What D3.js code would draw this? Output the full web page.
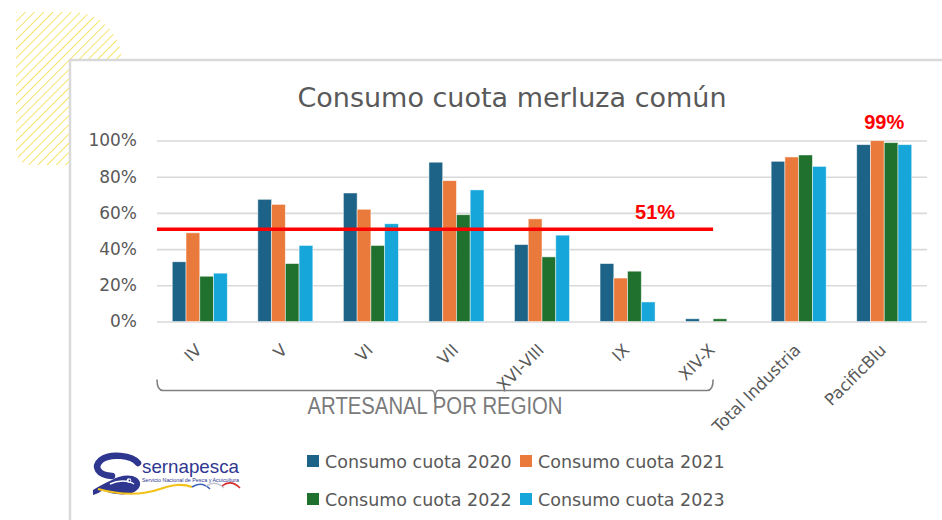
<!DOCTYPE html>
<html>
<head>
<meta charset="utf-8">
<script src="https://cdn.jsdelivr.net/npm/d3@7"></script>
<style>
  html, body { margin: 0; padding: 0; background: #ffffff; }
  svg { display: block; }
</style>
</head>
<body>
<div id="chart"></div>
<script>
// ---- data ----
const categories = ["IV", "V", "VI", "VII", "XVI-VIII", "IX", "XIV-X", "Total Industria", "PacificBlu"];
const seriesNames = ["Consumo cuota 2020", "Consumo cuota 2021", "Consumo cuota 2022", "Consumo cuota 2023"];
const cuota2020 = [0.33, 0.675, 0.71, 0.88, 0.425, 0.32, 0.015, 0.885, 0.977];
const cuota2021 = [0.49, 0.647, 0.62, 0.778, 0.567, 0.24, 0.0, 0.909, 0.999];
const cuota2022 = [0.25, 0.32, 0.42, 0.59, 0.357, 0.278, 0.015, 0.92, 0.988];
const cuota2023 = [0.267, 0.42, 0.54, 0.727, 0.477, 0.108, 0.0, 0.857, 0.977];
const yTicks = [0, 0.2, 0.4, 0.6, 0.8, 1.0];
const artesanalGroup = ["IV", "V", "VI", "VII", "XVI-VIII", "IX", "XIV-X"];
const thresholdValue = 0.51;
const thresholdLabel = "51%";
const pacificLabelValue = 0.99;
const pacificLabel = "99%";

const seriesValues = [cuota2020, cuota2021, cuota2022, cuota2023];
const colors = ["#1c6387", "#ea7a3b", "#1f712d", "#16a6d9"];

const W = 942, H = 520;
const FONT = "'DejaVu Sans', 'Open Sans', sans-serif";
const TXT = "#595959";

const svg = d3.select("#chart").append("svg")
  .attr("width", W).attr("height", H)
  .attr("viewBox", `0 0 ${W} ${H}`);

// ---- decorative hatched corner ----
const defs = svg.append("defs");
const pat = defs.append("pattern")
  .attr("id", "hatch").attr("patternUnits", "userSpaceOnUse")
  .attr("width", 6.5).attr("height", 6.5)
  .attr("patternTransform", "rotate(45)");
pat.append("line").attr("x1", 0).attr("y1", 0).attr("x2", 0).attr("y2", 6.5)
  .attr("stroke", "#f3d92c").attr("stroke-width", 1.4);

svg.append("path")
  .attr("d", "M16,12 H72 A50,50 0 0 1 122,62 V165 H30 A14,14 0 0 1 16,151 Z")
  .attr("fill", "url(#hatch)");

// ---- card ----
svg.append("rect")
  .attr("x", 70).attr("y", 60).attr("width", 900).attr("height", 500)
  .attr("fill", "#ffffff").attr("stroke", "#d9d9d9").attr("stroke-width", 2.5);

// ---- scales ----
const x0 = d3.scaleBand().domain(categories).range([157, 927])
  .paddingInner(0.357).paddingOuter(0.1785);
const x1 = d3.scaleBand().domain(seriesNames).range([0, x0.bandwidth()]);
const y = d3.scaleLinear().domain([0, 1]).range([321.5, 140.5]);
const center = c => x0(c) + x0.bandwidth() / 2;

// ---- title ----
svg.append("text")
  .attr("x", 512).attr("y", 107)
  .attr("text-anchor", "middle")
  .attr("font-family", FONT).attr("font-size", 27)
  .attr("fill", TXT)
  .text("Consumo cuota merluza común");

// ---- gridlines & y axis ----
const yAxis = d3.axisLeft(y).tickValues(yTicks)
  .tickFormat(d3.format(".0%")).tickSize(-(927 - 157)).tickPadding(20);
const gy = svg.append("g").attr("transform", "translate(157,0)").call(yAxis);
gy.select(".domain").remove();
gy.selectAll(".tick line").attr("stroke", "#d9d9d9").attr("stroke-width", 1.6);
gy.selectAll(".tick text")
  .attr("font-family", FONT).attr("font-size", 17).attr("fill", TXT);

// ---- bars ----
const groups = svg.append("g").selectAll("g").data(categories).join("g")
  .attr("transform", c => `translate(${x0(c)},0)`);
groups.selectAll("rect")
  .data((c, i) => seriesNames.map((s, k) => ({ s, v: seriesValues[k][i], k })))
  .join("rect")
  .filter(d => d.v > 0)
  .attr("x", d => x1(d.s))
  .attr("width", x1.bandwidth())
  .attr("y", d => y(d.v))
  .attr("height", d => y(0) - y(d.v))
  .attr("fill", d => colors[d.k])
  .attr("stroke", "#ffffff").attr("stroke-opacity", 0.6).attr("stroke-width", 0.8);

// ---- x axis labels ----
const xAxis = d3.axisBottom(x0).tickSize(0).tickPadding(0);
const gx = svg.append("g").attr("transform", `translate(0,${y(0)})`).call(xAxis);
gx.select(".domain").remove();
gx.selectAll(".tick text")
  .attr("font-family", FONT).attr("font-size", 16.5).attr("fill", TXT)
  .attr("text-anchor", "end").attr("dy", 0).attr("y", 0)
  .attr("transform", "translate(3,29.5) rotate(-45)");

// ---- threshold line ----
const firstArt = artesanalGroup[0], lastArt = artesanalGroup[artesanalGroup.length - 1];
svg.append("line")
  .attr("x1", 157).attr("x2", center(lastArt))
  .attr("y1", y(thresholdValue)).attr("y2", y(thresholdValue))
  .attr("stroke", "#ff0000").attr("stroke-width", 3.5);
svg.append("text")
  .attr("x", center(lastArt) - 58).attr("y", y(thresholdValue) - 10)
  .attr("text-anchor", "middle")
  .attr("font-family", "'Liberation Sans', Arial, sans-serif")
  .attr("font-weight", "bold").attr("font-size", 20)
  .attr("fill", "#ff0000").text(thresholdLabel);

// ---- PacificBlu label ----
svg.append("text")
  .attr("x", center("PacificBlu")).attr("y", y(pacificLabelValue) - 13)
  .attr("text-anchor", "middle")
  .attr("font-family", "'Liberation Sans', Arial, sans-serif")
  .attr("font-weight", "bold").attr("font-size", 20)
  .attr("fill", "#ff0000").text(pacificLabel);

// ---- group bracket ----
const bx1 = x0(firstArt) - x0.step() * x0.paddingOuter(), bx2 = center(lastArt);
const by = 390.5, bmid = (bx1 + bx2) / 2;
svg.append("path")
  .attr("d", `M${bx1},${by - 11} Q${bx1},${by} ${bx1 + 6},${by} H${bmid - 3} Q${bmid},${by} ${bmid},${by + 12} Q${bmid},${by} ${bmid + 3},${by} H${bx2 - 6} Q${bx2},${by} ${bx2},${by - 11}`)
  .attr("fill", "none").attr("stroke", "#808080").attr("stroke-width", 1.6);
svg.append("text")
  .attr("x", bmid).attr("y", 414)
  .attr("text-anchor", "middle")
  .attr("font-family", "'Liberation Sans Narrow', 'Arial Narrow', 'Liberation Sans', sans-serif")
  .attr("font-size", 23).attr("fill", "#7a7a7a")
  .attr("textLength", 255).attr("lengthAdjust", "spacingAndGlyphs")
  .text("ARTESANAL POR REGION");

// ---- legend ----
const legendPos = [[307, 461], [520, 461], [307, 499], [520, 499]];
const lg = svg.append("g").selectAll("g").data(seriesNames).join("g")
  .attr("transform", (d, i) => `translate(${legendPos[i][0]},${legendPos[i][1]})`);
lg.append("rect").attr("x", 0).attr("y", -6).attr("width", 12).attr("height", 12)
  .attr("fill", (d, i) => colors[i]);
lg.append("text").attr("x", 18).attr("y", 6.5)
  .attr("font-family", FONT).attr("font-size", 17.5).attr("fill", TXT)
  .text(d => d);

// ---- sernapesca logo ----
const logo = svg.append("g");
const navy = "#2e3690";
// upper arc of the S
logo.append("path")
  .attr("d", "M138,463 C132,455 110,453 101,460 C93,467 98,475 112,476")
  .attr("fill", "none").attr("stroke", navy).attr("stroke-width", 6.5).attr("stroke-linecap", "round");
// fish-shaped lower bowl of the S, with the tail at the left
logo.append("path")
  .attr("d", "M93,490 C99,486 105,483 112,480 C120,475 131,474 137,478 C143,483 140,490 132,493 C123,496 110,494 103,490 C100,492 97,494 93,495 Z")
  .attr("fill", navy);
logo.append("path")
  .attr("d", "M110,484 C118,480 128,480 134,484")
  .attr("fill", "none").attr("stroke", "#ffffff").attr("stroke-width", 1.4);
logo.append("circle").attr("cx", 129).attr("cy", 480.5).attr("r", 2.3).attr("fill", "#ffffff");
logo.append("circle").attr("cx", 129.5).attr("cy", 480.5).attr("r", 1).attr("fill", navy);
// waves
logo.append("path")
  .attr("d", "M98,489 C120,495 140,496 160,489 C172,485 182,483 192,487")
  .attr("fill", "none").attr("stroke", "#f2c21b").attr("stroke-width", 2.2);
logo.append("path")
  .attr("d", "M192,487 C198,483 204,483 210,489")
  .attr("fill", "none").attr("stroke", "#3b63b8").attr("stroke-width", 1.6);
logo.append("path")
  .attr("d", "M206,486 C212,482 218,482 224,488")
  .attr("fill", "none").attr("stroke", "#c9c9d6").attr("stroke-width", 1.6);
logo.append("path")
  .attr("d", "M222,486 C228,481 234,482 240,488")
  .attr("fill", "none").attr("stroke", "#d62e2e").attr("stroke-width", 1.6);
logo.append("text")
  .attr("x", 142).attr("y", 473)
  .attr("font-family", "'Liberation Sans', Arial, sans-serif")
  .attr("font-size", 19).attr("fill", navy)
  .attr("textLength", 97).attr("lengthAdjust", "spacingAndGlyphs")
  .text("sernapesca");
logo.append("text")
  .attr("x", 142).attr("y", 481.5)
  .attr("font-family", "'Liberation Sans Narrow', 'Liberation Sans', sans-serif")
  .attr("font-size", 6).attr("fill", navy)
  .attr("textLength", 97).attr("lengthAdjust", "spacingAndGlyphs")
  .text("Servicio Nacional de Pesca y Acuicultura");
</script>
</body>
</html>
